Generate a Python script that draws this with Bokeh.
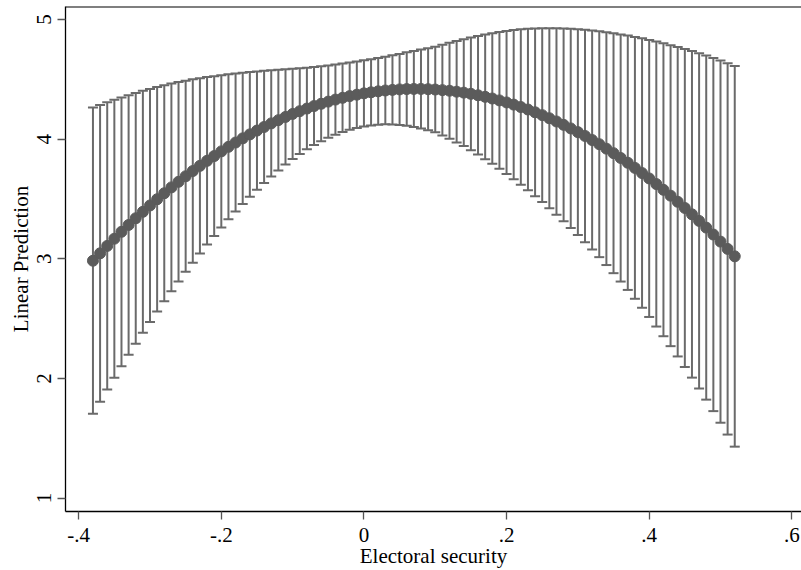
from bokeh.plotting import figure
from bokeh.models import FixedTicker, Span, ColumnDataSource
from bokeh.embed import file_html
from bokeh.resources import INLINE

# Electoral security values (x axis)
electoral_security = [
    -0.38, -0.37, -0.36, -0.35, -0.34, -0.33, -0.32, -0.31, -0.30, -0.29,
    -0.28, -0.27, -0.26, -0.25, -0.24, -0.23, -0.22, -0.21, -0.20, -0.19,
    -0.18, -0.17, -0.16, -0.15, -0.14, -0.13, -0.12, -0.11, -0.10, -0.09,
    -0.08, -0.07, -0.06, -0.05, -0.04, -0.03, -0.02, -0.01, 0.00, 0.01,
    0.02, 0.03, 0.04, 0.05, 0.06, 0.07, 0.08, 0.09, 0.10, 0.11,
    0.12, 0.13, 0.14, 0.15, 0.16, 0.17, 0.18, 0.19, 0.20, 0.21,
    0.22, 0.23, 0.24, 0.25, 0.26, 0.27, 0.28, 0.29, 0.30, 0.31,
    0.32, 0.33, 0.34, 0.35, 0.36, 0.37, 0.38, 0.39, 0.40, 0.41,
    0.42, 0.43, 0.44, 0.45, 0.46, 0.47, 0.48, 0.49, 0.50, 0.51,
    0.52,
]

# Linear prediction (point estimates)
linear_prediction = [
    2.984, 3.046, 3.108, 3.168, 3.226, 3.283, 3.339, 3.393, 3.446, 3.498,
    3.548, 3.597, 3.644, 3.690, 3.734, 3.777, 3.819, 3.859, 3.898, 3.936,
    3.972, 4.007, 4.040, 4.072, 4.102, 4.132, 4.159, 4.186, 4.211, 4.234,
    4.256, 4.277, 4.296, 4.314, 4.331, 4.346, 4.360, 4.372, 4.383, 4.392,
    4.400, 4.407, 4.412, 4.416, 4.419, 4.420, 4.420, 4.418, 4.415, 4.410,
    4.405, 4.397, 4.389, 4.379, 4.367, 4.354, 4.340, 4.324, 4.307, 4.289,
    4.269, 4.248, 4.225, 4.201, 4.175, 4.148, 4.120, 4.090, 4.059, 4.027,
    3.993, 3.958, 3.921, 3.883, 3.843, 3.803, 3.760, 3.717, 3.672, 3.625,
    3.577, 3.528, 3.477, 3.425, 3.372, 3.317, 3.261, 3.203, 3.144, 3.083,
    3.021,
]

# Half-width of the 95% confidence interval
ci_halfwidth = [
    1.280, 1.240, 1.201, 1.162, 1.123, 1.085, 1.048, 1.011, 0.974, 0.938,
    0.903, 0.868, 0.833, 0.799, 0.766, 0.733, 0.700, 0.668, 0.637, 0.606,
    0.577, 0.548, 0.521, 0.494, 0.469, 0.444, 0.421, 0.398, 0.377, 0.358,
    0.341, 0.326, 0.313, 0.302, 0.293, 0.286, 0.281, 0.278, 0.277, 0.277,
    0.279, 0.283, 0.289, 0.297, 0.307, 0.318, 0.330, 0.343, 0.357, 0.379,
    0.401, 0.424, 0.447, 0.471, 0.496, 0.521, 0.546, 0.572, 0.598, 0.624,
    0.649, 0.675, 0.701, 0.727, 0.753, 0.780, 0.806, 0.833, 0.860, 0.888,
    0.916, 0.944, 0.973, 1.003, 1.033, 1.063, 1.094, 1.126, 1.158, 1.191,
    1.224, 1.258, 1.293, 1.329, 1.365, 1.401, 1.438, 1.476, 1.514, 1.552,
    1.591,
]

x_ticks = [-0.4, -0.2, 0.0, 0.2, 0.4, 0.6]
x_tick_labels = ["-.4", "-.2", "0", ".2", ".4", ".6"]
y_ticks = [1, 2, 3, 4, 5]
y_tick_labels = ["1", "2", "3", "4", "5"]
x_title = "Electoral security"
y_title = "Linear Prediction"

lower = [c - h for c, h in zip(linear_prediction, ci_halfwidth)]
upper = [c + h for c, h in zip(linear_prediction, ci_halfwidth)]

src = ColumnDataSource(dict(x=electoral_security, y=linear_prediction,
                            lo=lower, hi=upper))

FONT = "Liberation Serif"
BAR = "#6a6a6a"
DOT = "#5b5b5b"

y_start, y_end = 0.888, 5.109
p = figure(width=801, height=570, output_backend="svg", toolbar_location=None,
           x_range=(-0.4185, 0.6136), y_range=(y_start, y_end),
           min_border_left=65, min_border_right=0, min_border_top=6,
           min_border_bottom=59, background_fill_color="white",
           border_fill_color="white")

p.outline_line_color = None
p.xgrid.visible = False
p.ygrid.visible = False

# bars
p.segment(x0="x", y0="lo", x1="x", y1="hi", source=src, line_color=BAR,
          line_width=2)
p.scatter(x="x", y="hi", source=src, marker="dash", size=10,
          line_color=BAR, line_width=2)
p.scatter(x="x", y="lo", source=src, marker="dash", size=10,
          line_color=BAR, line_width=2)
# points
p.scatter(x="x", y="y", source=src, marker="circle", size=11,
          fill_color=DOT, line_color=DOT)

# top border line
p.add_layout(Span(location=y_end, dimension="width", line_color="black",
                  line_width=2))

for ax in (p.xaxis[0], p.yaxis[0]):
    ax.axis_line_color = "black"
    ax.axis_line_width = 1.3
    ax.major_tick_line_color = "#555555"
    ax.major_tick_line_width = 1.3
    ax.major_tick_out = 8
    ax.major_tick_in = 0
    ax.minor_tick_line_color = None
    ax.major_label_text_font = FONT
    ax.major_label_text_font_size = "21px"
    ax.major_label_text_color = "black"
    ax.axis_label_text_font = FONT
    ax.axis_label_text_font_size = "21px"
    ax.axis_label_text_font_style = "normal"
    ax.axis_label_text_color = "black"

p.xaxis.ticker = FixedTicker(ticks=x_ticks)
p.xaxis.major_label_overrides = dict(zip(x_ticks, x_tick_labels))
p.xaxis.axis_label = x_title
p.xaxis.major_label_standoff = 8
p.xaxis.axis_label_standoff = -1

p.yaxis.ticker = FixedTicker(ticks=y_ticks)
p.yaxis.major_label_overrides = dict(zip(y_ticks, y_tick_labels))
p.yaxis.axis_label = y_title
p.yaxis.major_label_orientation = "vertical"
p.yaxis.major_label_standoff = 6
p.yaxis.axis_label_standoff = 2

open("out.html", "w").write(file_html(p, INLINE))
